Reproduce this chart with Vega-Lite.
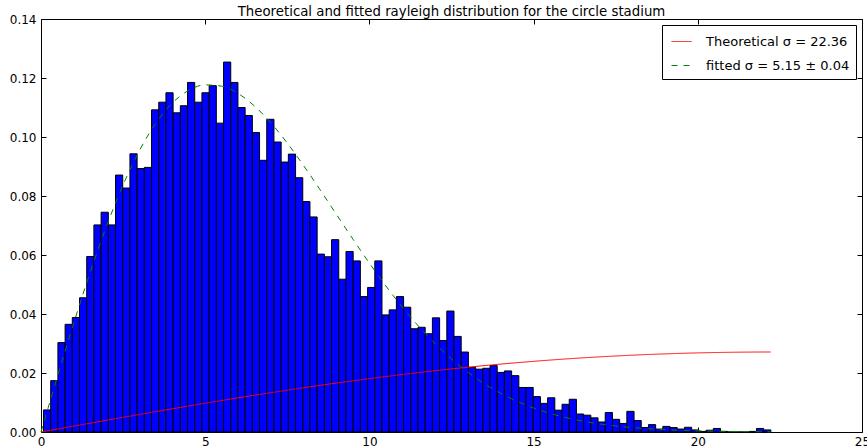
{
  "$schema": "https://vega.github.io/schema/vega-lite/v6.json",
  "width": 821,
  "height": 413,
  "autosize": "none",
  "padding": {"left": 41, "top": 19, "right": 5, "bottom": 16},
  "background": "white",
  "title": {
    "text": "Theoretical and fitted rayleigh distribution for the circle stadium",
    "font": "DejaVu Sans",
    "fontSize": 13.3,
    "fontWeight": "normal",
    "color": "black",
    "anchor": "middle",
    "offset": -5
  },
  "config": {
    "view": {"stroke": "black", "strokeWidth": 1},
    "axis": {
      "domain": false,
      "grid": false,
      "ticks": true,
      "tickSize": -5,
      "tickColor": "black",
      "tickWidth": 1,
      "labelFont": "DejaVu Sans",
      "labelFontSize": 12,
      "labelColor": "black",
      "title": null
    }
  },
  "datasets": {
    "hist": [
      {"lo": 0.076, "hi": 0.295, "density": 0.0075},
      {"lo": 0.295, "hi": 0.515, "density": 0.0174},
      {"lo": 0.515, "hi": 0.734, "density": 0.0303},
      {"lo": 0.734, "hi": 0.953, "density": 0.0365},
      {"lo": 0.953, "hi": 1.173, "density": 0.0388},
      {"lo": 1.173, "hi": 1.392, "density": 0.0455},
      {"lo": 1.392, "hi": 1.611, "density": 0.0595},
      {"lo": 1.611, "hi": 1.830, "density": 0.0702},
      {"lo": 1.830, "hi": 2.050, "density": 0.0745},
      {"lo": 2.050, "hi": 2.269, "density": 0.0702},
      {"lo": 2.269, "hi": 2.488, "density": 0.0871},
      {"lo": 2.488, "hi": 2.708, "density": 0.0827},
      {"lo": 2.708, "hi": 2.927, "density": 0.0943},
      {"lo": 2.927, "hi": 3.146, "density": 0.0893},
      {"lo": 3.146, "hi": 3.366, "density": 0.0897},
      {"lo": 3.366, "hi": 3.585, "density": 0.1092},
      {"lo": 3.585, "hi": 3.804, "density": 0.1118},
      {"lo": 3.804, "hi": 4.023, "density": 0.1150},
      {"lo": 4.023, "hi": 4.243, "density": 0.1082},
      {"lo": 4.243, "hi": 4.462, "density": 0.1106},
      {"lo": 4.462, "hi": 4.681, "density": 0.1185},
      {"lo": 4.681, "hi": 4.901, "density": 0.1118},
      {"lo": 4.901, "hi": 5.120, "density": 0.1150},
      {"lo": 5.120, "hi": 5.339, "density": 0.1174},
      {"lo": 5.339, "hi": 5.559, "density": 0.1047},
      {"lo": 5.559, "hi": 5.778, "density": 0.1254},
      {"lo": 5.778, "hi": 5.997, "density": 0.1185},
      {"lo": 5.997, "hi": 6.216, "density": 0.1100},
      {"lo": 6.216, "hi": 6.436, "density": 0.1073},
      {"lo": 6.436, "hi": 6.655, "density": 0.1015},
      {"lo": 6.655, "hi": 6.874, "density": 0.0921},
      {"lo": 6.874, "hi": 7.094, "density": 0.1060},
      {"lo": 7.094, "hi": 7.313, "density": 0.0983},
      {"lo": 7.313, "hi": 7.532, "density": 0.0915},
      {"lo": 7.532, "hi": 7.752, "density": 0.0942},
      {"lo": 7.752, "hi": 7.971, "density": 0.0862},
      {"lo": 7.971, "hi": 8.190, "density": 0.0781},
      {"lo": 8.190, "hi": 8.409, "density": 0.0729},
      {"lo": 8.409, "hi": 8.629, "density": 0.0603},
      {"lo": 8.629, "hi": 8.848, "density": 0.0594},
      {"lo": 8.848, "hi": 9.067, "density": 0.0652},
      {"lo": 9.067, "hi": 9.287, "density": 0.0518},
      {"lo": 9.287, "hi": 9.506, "density": 0.0612},
      {"lo": 9.506, "hi": 9.725, "density": 0.0580},
      {"lo": 9.725, "hi": 9.945, "density": 0.0459},
      {"lo": 9.945, "hi": 10.164, "density": 0.0490},
      {"lo": 10.164, "hi": 10.383, "density": 0.0580},
      {"lo": 10.383, "hi": 10.602, "density": 0.0397},
      {"lo": 10.602, "hi": 10.822, "density": 0.0414},
      {"lo": 10.822, "hi": 11.041, "density": 0.0459},
      {"lo": 11.041, "hi": 11.260, "density": 0.0423},
      {"lo": 11.260, "hi": 11.480, "density": 0.0350},
      {"lo": 11.480, "hi": 11.699, "density": 0.0355},
      {"lo": 11.699, "hi": 11.918, "density": 0.0333},
      {"lo": 11.918, "hi": 12.138, "density": 0.0387},
      {"lo": 12.138, "hi": 12.357, "density": 0.0310},
      {"lo": 12.357, "hi": 12.576, "density": 0.0410},
      {"lo": 12.576, "hi": 12.795, "density": 0.0324},
      {"lo": 12.795, "hi": 13.015, "density": 0.0271},
      {"lo": 13.015, "hi": 13.234, "density": 0.0219},
      {"lo": 13.234, "hi": 13.453, "density": 0.0213},
      {"lo": 13.453, "hi": 13.673, "density": 0.0216},
      {"lo": 13.673, "hi": 13.892, "density": 0.0225},
      {"lo": 13.892, "hi": 14.111, "density": 0.0202},
      {"lo": 14.111, "hi": 14.331, "density": 0.0207},
      {"lo": 14.331, "hi": 14.550, "density": 0.0191},
      {"lo": 14.550, "hi": 14.769, "density": 0.0151},
      {"lo": 14.769, "hi": 14.988, "density": 0.0151},
      {"lo": 14.988, "hi": 15.208, "density": 0.0120},
      {"lo": 15.208, "hi": 15.427, "density": 0.0097},
      {"lo": 15.427, "hi": 15.646, "density": 0.0116},
      {"lo": 15.646, "hi": 15.866, "density": 0.0074},
      {"lo": 15.866, "hi": 16.085, "density": 0.0094},
      {"lo": 16.085, "hi": 16.304, "density": 0.0111},
      {"lo": 16.304, "hi": 16.524, "density": 0.0061},
      {"lo": 16.524, "hi": 16.743, "density": 0.0057},
      {"lo": 16.743, "hi": 16.962, "density": 0.0048},
      {"lo": 16.962, "hi": 17.181, "density": 0.0034},
      {"lo": 17.181, "hi": 17.401, "density": 0.0066},
      {"lo": 17.401, "hi": 17.620, "density": 0.0043},
      {"lo": 17.620, "hi": 17.839, "density": 0.0029},
      {"lo": 17.839, "hi": 18.059, "density": 0.0070},
      {"lo": 18.059, "hi": 18.278, "density": 0.0039},
      {"lo": 18.278, "hi": 18.497, "density": 0.0015},
      {"lo": 18.497, "hi": 18.717, "density": 0.0025},
      {"lo": 18.717, "hi": 18.936, "density": 0.0010},
      {"lo": 18.936, "hi": 19.155, "density": 0.0019},
      {"lo": 19.155, "hi": 19.374, "density": 0.0015},
      {"lo": 19.374, "hi": 19.594, "density": 0.0010},
      {"lo": 19.594, "hi": 19.813, "density": 0.0016},
      {"lo": 19.813, "hi": 20.032, "density": 0.0007},
      {"lo": 20.032, "hi": 20.252, "density": 0.0002},
      {"lo": 20.252, "hi": 20.471, "density": 0.0006},
      {"lo": 20.471, "hi": 20.690, "density": 0.0012},
      {"lo": 20.690, "hi": 20.910, "density": 0.0002},
      {"lo": 20.910, "hi": 21.129, "density": 0.0},
      {"lo": 21.129, "hi": 21.348, "density": 0.0},
      {"lo": 21.348, "hi": 21.567, "density": 0.0},
      {"lo": 21.567, "hi": 21.787, "density": 0.0002},
      {"lo": 21.787, "hi": 22.006, "density": 0.0012},
      {"lo": 22.006, "hi": 22.225, "density": 0.0007}
    ],
    "curves": [
      {"series": "Theoretical σ = 22.36", "x": 0, "pdf": 0},
      {"series": "Theoretical σ = 22.36", "x": 1, "pdf": 0.001998},
      {"series": "Theoretical σ = 22.36", "x": 2, "pdf": 0.003984},
      {"series": "Theoretical σ = 22.36", "x": 3, "pdf": 0.005946},
      {"series": "Theoretical σ = 22.36", "x": 4, "pdf": 0.007873},
      {"series": "Theoretical σ = 22.36", "x": 5, "pdf": 0.009753},
      {"series": "Theoretical σ = 22.36", "x": 6, "pdf": 0.011576},
      {"series": "Theoretical σ = 22.36", "x": 7, "pdf": 0.013331},
      {"series": "Theoretical σ = 22.36", "x": 8, "pdf": 0.015008},
      {"series": "Theoretical σ = 22.36", "x": 9, "pdf": 0.016599},
      {"series": "Theoretical σ = 22.36", "x": 10, "pdf": 0.018097},
      {"series": "Theoretical σ = 22.36", "x": 11, "pdf": 0.019493},
      {"series": "Theoretical σ = 22.36", "x": 12, "pdf": 0.020781},
      {"series": "Theoretical σ = 22.36", "x": 13, "pdf": 0.021958},
      {"series": "Theoretical σ = 22.36", "x": 14, "pdf": 0.023017},
      {"series": "Theoretical σ = 22.36", "x": 15, "pdf": 0.023956},
      {"series": "Theoretical σ = 22.36", "x": 16, "pdf": 0.024772},
      {"series": "Theoretical σ = 22.36", "x": 17, "pdf": 0.025466},
      {"series": "Theoretical σ = 22.36", "x": 18, "pdf": 0.026037},
      {"series": "Theoretical σ = 22.36", "x": 19, "pdf": 0.026486},
      {"series": "Theoretical σ = 22.36", "x": 20, "pdf": 0.026813},
      {"series": "Theoretical σ = 22.36", "x": 21, "pdf": 0.027022},
      {"series": "Theoretical σ = 22.36", "x": 22, "pdf": 0.027115},
      {"series": "Theoretical σ = 22.36", "x": 22.22, "pdf": 0.027122},
      {"series": "fitted σ = 5.15 ± 0.04", "x": 0, "pdf": 0},
      {"series": "fitted σ = 5.15 ± 0.04", "x": 0.5, "pdf": 0.01876},
      {"series": "fitted σ = 5.15 ± 0.04", "x": 1.0, "pdf": 0.03700},
      {"series": "fitted σ = 5.15 ± 0.04", "x": 1.5, "pdf": 0.05421},
      {"series": "fitted σ = 5.15 ± 0.04", "x": 2.0, "pdf": 0.06993},
      {"series": "fitted σ = 5.15 ± 0.04", "x": 2.5, "pdf": 0.08378},
      {"series": "fitted σ = 5.15 ± 0.04", "x": 3.0, "pdf": 0.09546},
      {"series": "fitted σ = 5.15 ± 0.04", "x": 3.5, "pdf": 0.10475},
      {"series": "fitted σ = 5.15 ± 0.04", "x": 4.0, "pdf": 0.11154},
      {"series": "fitted σ = 5.15 ± 0.04", "x": 4.5, "pdf": 0.11583},
      {"series": "fitted σ = 5.15 ± 0.04", "x": 5.0, "pdf": 0.11767},
      {"series": "fitted σ = 5.15 ± 0.04", "x": 5.5, "pdf": 0.11724},
      {"series": "fitted σ = 5.15 ± 0.04", "x": 6.0, "pdf": 0.11476},
      {"series": "fitted σ = 5.15 ± 0.04", "x": 6.5, "pdf": 0.11050},
      {"series": "fitted σ = 5.15 ± 0.04", "x": 7.0, "pdf": 0.10479},
      {"series": "fitted σ = 5.15 ± 0.04", "x": 7.5, "pdf": 0.09793},
      {"series": "fitted σ = 5.15 ± 0.04", "x": 8.0, "pdf": 0.09025},
      {"series": "fitted σ = 5.15 ± 0.04", "x": 8.5, "pdf": 0.08209},
      {"series": "fitted σ = 5.15 ± 0.04", "x": 9.0, "pdf": 0.07370},
      {"series": "fitted σ = 5.15 ± 0.04", "x": 9.5, "pdf": 0.06535},
      {"series": "fitted σ = 5.15 ± 0.04", "x": 10.0, "pdf": 0.05723},
      {"series": "fitted σ = 5.15 ± 0.04", "x": 10.5, "pdf": 0.04953},
      {"series": "fitted σ = 5.15 ± 0.04", "x": 11.0, "pdf": 0.04237},
      {"series": "fitted σ = 5.15 ± 0.04", "x": 11.5, "pdf": 0.03584},
      {"series": "fitted σ = 5.15 ± 0.04", "x": 12.0, "pdf": 0.02997},
      {"series": "fitted σ = 5.15 ± 0.04", "x": 12.5, "pdf": 0.02478},
      {"series": "fitted σ = 5.15 ± 0.04", "x": 13.0, "pdf": 0.02026},
      {"series": "fitted σ = 5.15 ± 0.04", "x": 13.5, "pdf": 0.01639},
      {"series": "fitted σ = 5.15 ± 0.04", "x": 14.0, "pdf": 0.01312},
      {"series": "fitted σ = 5.15 ± 0.04", "x": 14.5, "pdf": 0.01039},
      {"series": "fitted σ = 5.15 ± 0.04", "x": 15.0, "pdf": 0.00813},
      {"series": "fitted σ = 5.15 ± 0.04", "x": 15.5, "pdf": 0.00631},
      {"series": "fitted σ = 5.15 ± 0.04", "x": 16.0, "pdf": 0.00484},
      {"series": "fitted σ = 5.15 ± 0.04", "x": 16.5, "pdf": 0.00367},
      {"series": "fitted σ = 5.15 ± 0.04", "x": 17.0, "pdf": 0.00276},
      {"series": "fitted σ = 5.15 ± 0.04", "x": 17.5, "pdf": 0.00205},
      {"series": "fitted σ = 5.15 ± 0.04", "x": 18.0, "pdf": 0.00151},
      {"series": "fitted σ = 5.15 ± 0.04", "x": 18.5, "pdf": 0.00110},
      {"series": "fitted σ = 5.15 ± 0.04", "x": 19.0, "pdf": 0.00079},
      {"series": "fitted σ = 5.15 ± 0.04", "x": 19.5, "pdf": 0.00057},
      {"series": "fitted σ = 5.15 ± 0.04", "x": 20.0, "pdf": 0.00040},
      {"series": "fitted σ = 5.15 ± 0.04", "x": 20.5, "pdf": 0.00028},
      {"series": "fitted σ = 5.15 ± 0.04", "x": 21.0, "pdf": 0.00019},
      {"series": "fitted σ = 5.15 ± 0.04", "x": 21.5, "pdf": 0.00013},
      {"series": "fitted σ = 5.15 ± 0.04", "x": 22.0, "pdf": 0.00009},
      {"series": "fitted σ = 5.15 ± 0.04", "x": 22.22, "pdf": 0.00008}
    ]
  },
  "resolve": {"axis": {"x": "independent", "y": "independent"}},
  "layer": [
    {
      "data": {"name": "hist"},
      "mark": {"type": "rect", "fill": "#0000ff", "stroke": "black", "strokeWidth": 1},
      "encoding": {
        "x": {
          "field": "lo", "type": "quantitative",
          "scale": {"domain": [0, 25], "nice": false, "zero": false},
          "axis": {"orient": "bottom", "values": [0, 5, 10, 15, 20, 25], "format": "d", "labelPadding": 9, "labelFlush": false}
        },
        "x2": {"field": "hi"},
        "y": {
          "field": "density", "type": "quantitative",
          "scale": {"domain": [0, 0.14], "nice": false},
          "axis": {"orient": "left", "values": [0, 0.02, 0.04, 0.06, 0.08, 0.1, 0.12, 0.14], "format": ".2f", "labelPadding": 10, "labelFlush": false}
        },
        "y2": {"datum": 0}
      }
    },
    {
      "data": {"name": "curves"},
      "mark": {"type": "line", "strokeWidth": 1, "interpolate": "monotone"},
      "encoding": {
        "x": {
          "field": "x", "type": "quantitative",
          "scale": {"domain": [0, 25], "nice": false, "zero": false},
          "axis": {"orient": "top", "values": [0, 5, 10, 15, 20, 25], "labels": false}
        },
        "y": {
          "field": "pdf", "type": "quantitative",
          "scale": {"domain": [0, 0.14], "nice": false},
          "axis": {"orient": "right", "values": [0, 0.02, 0.04, 0.06, 0.08, 0.1, 0.12, 0.14], "labels": false}
        },
        "color": {
          "field": "series", "type": "nominal",
          "scale": {"domain": ["Theoretical σ = 22.36", "fitted σ = 5.15 ± 0.04"], "range": ["#ff0000", "#008000"]},
          "legend": {
            "title": null, "orient": "top-right", "offset": 6,
            "strokeColor": "black", "fillColor": "white", "padding": 6,
            "symbolType": "stroke", "symbolSize": 400, "symbolStrokeWidth": 1, "symbolOffset": 3,
            "labelFont": "DejaVu Sans", "labelFontSize": 13, "labelColor": "black", "labelOffset": 14,
            "rowPadding": 6
          }
        },
        "strokeDash": {
          "field": "series", "type": "nominal",
          "scale": {"domain": ["Theoretical σ = 22.36", "fitted σ = 5.15 ± 0.04"], "range": [[1, 0], [6, 6]]},
          "legend": {
            "title": null, "orient": "top-right", "offset": 6,
            "strokeColor": "black", "fillColor": "white", "padding": 6,
            "symbolType": "stroke", "symbolSize": 400, "symbolStrokeWidth": 1, "symbolOffset": 3,
            "labelFont": "DejaVu Sans", "labelFontSize": 13, "labelColor": "black", "labelOffset": 14,
            "rowPadding": 6
          }
        }
      }
    }
  ]
}
